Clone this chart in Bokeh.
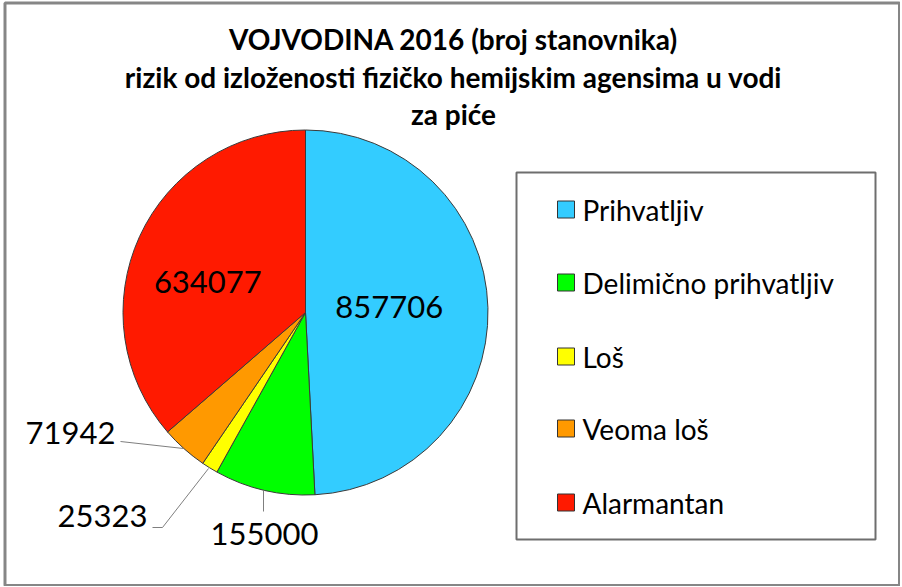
import numpy as np
from bokeh.plotting import figure
from bokeh.models import Range1d, ColumnDataSource
from bokeh.core.properties import value
from bokeh.embed import file_html
from bokeh.resources import INLINE

# ---- data ----
categories = ["Prihvatljiv", "Delimično prihvatljiv", "Loš", "Veoma loš", "Alarmantan"]
values = [857706, 155000, 25323, 71942, 634077]
colors = ["#33CCFF", "#00FF00", "#FFFF00", "#FF9900", "#FF1A00"]
title_lines = ["VOJVODINA 2016 (broj stanovnika)",
               "rizik od izloženosti fizičko hemijskim agensima u vodi",
               "za piće"]

W, H = 900, 586
OFF = 0

def px(x):
    return x - OFF

def py(y):
    return H - (y - OFF)

p = figure(width=W, height=H, output_backend="svg", toolbar_location=None,
           x_range=Range1d(0, W), y_range=Range1d(0, H), min_border=0)
p.axis.visible = False
p.grid.visible = False
p.outline_line_color = None
p.background_fill_color = "white"
p.border_fill_color = "white"

FONT = "Lato"

# ---- outer frame ----
p.quad(left=[px(4.5)], right=[px(899)], top=[py(2.5)], bottom=[py(585)],
       fill_color=None, line_color="#868686", line_width=3)

# ---- title ----
for t, yy in zip(title_lines, [38, 76, 113]):
    p.text(x=[px(453)], y=[py(yy)], text=[t], text_font=value(FONT), text_font_style="bold",
           text_font_size="28px", text_align="center", text_baseline="middle", text_color="black")

# ---- pie ----
vals = np.array(values, dtype=float)
frac = vals / vals.sum()
cum = np.concatenate([[0], np.cumsum(frac)])
start = np.pi / 2 - cum[1:] * 2 * np.pi
end = np.pi / 2 - cum[:-1] * 2 * np.pi
cx, cy, R = px(305), py(312), 182.5
src = ColumnDataSource(dict(start=start, end=end, color=colors, cat=categories))
p.wedge(x=cx, y=cy, radius=R, start_angle="start", end_angle="end", direction="anticlock",
        fill_color="color", line_color="#3a3a3a", line_width=1, source=src)

mid = (start + end) / 2
labels = [str(v) for v in values]
# inside labels (Prihvatljiv, Alarmantan)
inside = {0: (0.46, 0.04), 4: (0.56, 0.13)}
for idx, (rf, dang) in inside.items():
    a = mid[idx] + dang
    p.text(x=[cx + rf * R * np.cos(a)], y=[cy + rf * R * np.sin(a)], text=[labels[idx]],
           text_font=value(FONT), text_font_size="31px", text_align="center",
           text_baseline="middle", text_color="black")

# outside labels with leader lines
out_pos = {1: (264, 533), 2: (102, 515), 3: (70, 432)}
for idx, (lx, ly) in out_pos.items():
    p.text(x=[px(lx)], y=[py(ly)], text=[labels[idx]], text_font=value(FONT),
           text_font_size="31px", text_align="center", text_baseline="middle", text_color="black")

leaders = {
    1: ([263, 263], [511, 490]),
    2: ([152, 162, 208], [527, 527, 468]),
    3: ([120, 183], [441, 448]),
}
for idx, (xs, ys) in leaders.items():
    p.line(x=[px(v) for v in xs], y=[py(v) for v in ys], line_color="#7f7f7f", line_width=1)

# ---- legend ----
p.quad(left=[px(516)], right=[px(875)], top=[py(172)], bottom=[py(539)],
       fill_color="white", line_color="#6e6e6e", line_width=2)
rows = [209, 282, 356, 428, 502]
p.rect(x=[px(565.5)] * 5, y=[py(r) for r in rows], width=17, height=17,
       fill_color=colors, line_color="#333333", line_width=1)
p.text(x=[px(582)] * 5, y=[py(r) for r in rows], text=categories, text_font=value(FONT),
       text_font_size="28px", text_align="left", text_baseline="middle", text_color="black")

open("out.html", "w").write(file_html(p, INLINE))
